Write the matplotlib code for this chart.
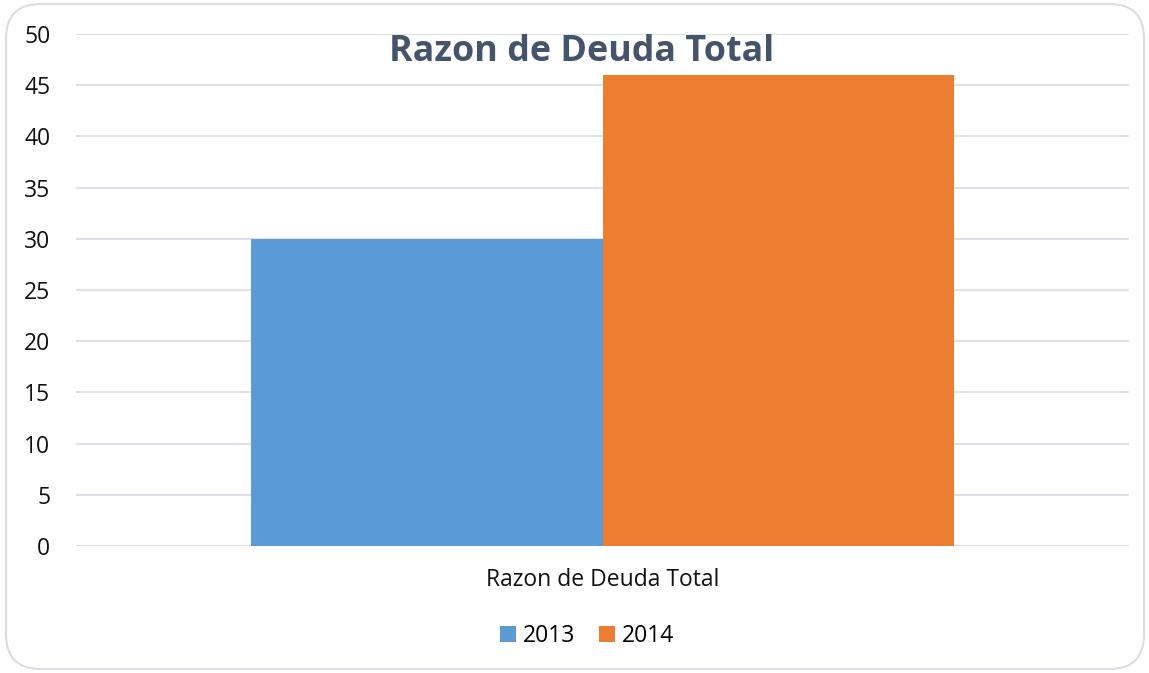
import matplotlib
matplotlib.use("Agg")
import matplotlib.pyplot as plt
from matplotlib.patches import FancyBboxPatch, Patch

categories = ["Razon de Deuda Total"]
series_names = ["2013", "2014"]
values_2013 = [30]
values_2014 = [46]
yticks = [0, 5, 10, 15, 20, 25, 30, 35, 40, 45, 50]
title = "Razon de Deuda Total"

plt.rcParams['font.family'] = ['Open Sans', 'DejaVu Sans']

fig = plt.figure(figsize=(11.49, 6.73), dpi=100)
fig.patch.set_facecolor("white")

# rounded border
border = FancyBboxPatch((6/1149, 4/673), 1138/1149, 665/673,
                        boxstyle="round,pad=0,rounding_size=0.03",
                        transform=fig.transFigure, facecolor="none",
                        edgecolor="#D9DEE5", linewidth=1.5, mutation_aspect=1149/673,
                        zorder=-5)
fig.patches.append(border)

ax = fig.add_axes([76/1149, 1-546/673, (1129-76)/1149, (546-34)/673])
ax.set_facecolor("none")
ax.set_zorder(2)

w = 0.334
x = [0]
ax.bar([xi - w/2 for xi in x], values_2013, width=w, color="#5B9BD5", zorder=3, label=series_names[0])
ax.bar([xi + w/2 for xi in x], values_2014, width=w, color="#ED7D31", zorder=3, label=series_names[1])

ax.set_xlim(-0.5, 0.5)
ax.set_ylim(0, 50)
ax.set_yticks(yticks)
ax.set_yticklabels([str(t) for t in yticks], fontsize=16.5, color="#111111")
ax.set_xticks(x)
ax.set_xticklabels(categories, fontsize=16.5, color="#111111")
ax.tick_params(axis="both", length=0)
ax.tick_params(axis="y", pad=18.5)
ax.tick_params(axis="x", pad=16)
ax.grid(axis="y", color="#DDE2EA", linewidth=1.5, zorder=0)
for s in ax.spines.values():
    s.set_visible(False)

fig.text(582/1149, 1-52/673, title, ha="center", va="center",
         fontsize=25.8, fontweight="bold", color="#44546A")

handles = [Patch(facecolor="#5B9BD5"), Patch(facecolor="#ED7D31")]
fig.legend(handles, series_names, loc="center", bbox_to_anchor=(587/1149, 1-636/673),
           ncol=2, frameon=False, fontsize=16.5, handlelength=0.7, handleheight=0.7,
           handletextpad=0.3, columnspacing=1.0)

fig.savefig("out.png", dpi=100)
